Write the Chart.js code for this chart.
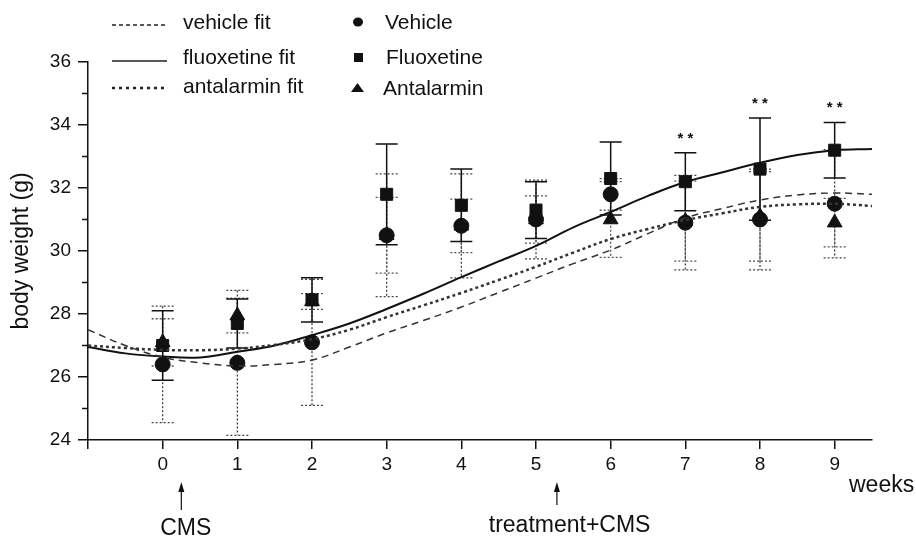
<!DOCTYPE html>
<html>
<head>
<meta charset="utf-8">
<script src="https://cdn.jsdelivr.net/npm/chart.js@4.4.1/dist/chart.umd.min.js"></script>
<style>
  html, body { margin: 0; padding: 0; background: #fff; }
  #grafica { display: block; }
</style>
</head>
<body>
<canvas id="grafica" width="916" height="537"></canvas>
<script>
// semanas
const weeks = [0, 1, 2, 3, 4, 5, 6, 7, 8, 9];

// medias por grupo
const vehicle    = [26.4, 26.45, 27.1, 30.5, 30.8, 31.0, 31.8, 30.9, 31.0, 31.5];
const fluoxetine = [27.0, 27.7, 28.45, 31.8, 31.45, 31.3, 32.3, 32.2, 32.6, 33.2];
const antalarmin = [27.1, 27.95, 28.4, 30.5, 30.8, 31.0, 31.0, 30.95, 31.1, 30.9];

// barras de error (+/-)
const vehicleErr    = [1.85, 2.3, 2.0, 1.95, 1.65, 1.25, 0.5, 1.5, 1.6, 1.72];
const fluoxetineErr = [1.1, 0.78, 0.7, 1.6, 1.15, 0.9, 1.16, 0.92, 1.62, 0.88];
const antalarminErr = [0.75, 0.55, 0.25, 1.2, 0.85, 0.75, 1.2, 1.27, 1.42, 0.77];

// curvas de ajuste
const fitWeeks      = [-1, -0.5, 0, 0.5, 1, 1.5, 2, 2.5, 3, 3.5, 4, 4.5, 5, 5.5, 6, 6.5, 7, 7.5, 8, 8.5, 9, 9.5];
const vehicleFit    = [27.5, 27.0, 26.63, 26.45, 26.35, 26.4, 26.54, 26.95, 27.4, 27.8, 28.22, 28.68, 29.14, 29.6, 30.03, 30.55, 31.05, 31.35, 31.62, 31.78, 31.84, 31.8];
const fluoxetineFit = [26.95, 26.75, 26.65, 26.62, 26.8, 27.0, 27.33, 27.7, 28.16, 28.65, 29.17, 29.67, 30.16, 30.75, 31.24, 31.75, 32.19, 32.5, 32.8, 33.05, 33.2, 33.24];
const antalarminFit = [27.0, 26.92, 26.86, 26.85, 26.9, 27.02, 27.2, 27.5, 27.9, 28.28, 28.67, 29.08, 29.5, 29.95, 30.38, 30.7, 30.98, 31.2, 31.4, 31.48, 31.5, 31.43];

// semanas con significancia (**)
const sigWeeks = [7, 8, 9];

// ticks
const xTicks = [-1, 0, 1, 2, 3, 4, 5, 6, 7, 8, 9];
const yTicks = [24, 26, 28, 30, 32, 34, 36];
const yMinorTicks = [25, 27, 29, 31, 33, 35];

const FONT = "'Liberation Sans', Arial, sans-serif";

function toPoints(xs, ys) {
    return xs.map((x, i) => ({ x: x, y: ys[i] }));
}

// dibuja barras de error, ticks menores, flechas y leyenda
const extras = {
    id: 'extras',
    beforeDatasetsDraw(chart) {
        const ctx = chart.ctx;
        const x = chart.scales.x, y = chart.scales.y;
        const grupos = [
            { m: vehicle, e: vehicleErr, color: '#444', dash: [2, 2], w: 1.3 },
            { m: antalarmin, e: antalarminErr, color: '#555', dash: [2, 2], w: 1.3 },
            { m: fluoxetine, e: fluoxetineErr, color: '#111', dash: [], w: 1.5 }
        ];
        ctx.save();
        grupos.forEach(g => {
            ctx.strokeStyle = g.color;
            ctx.lineWidth = g.w;
            ctx.setLineDash(g.dash);
            weeks.forEach((wk, i) => {
                const px = x.getPixelForValue(wk);
                const top = y.getPixelForValue(g.m[i] + g.e[i]);
                const bot = y.getPixelForValue(g.m[i] - g.e[i]);
                ctx.beginPath();
                ctx.moveTo(px, top); ctx.lineTo(px, bot);
                ctx.moveTo(px - 11, top); ctx.lineTo(px + 11, top);
                ctx.moveTo(px - 11, bot); ctx.lineTo(px + 11, bot);
                ctx.stroke();
            });
        });
        ctx.restore();
    },
    afterDraw(chart) {
        const ctx = chart.ctx;
        const x = chart.scales.x, y = chart.scales.y;
        const left = chart.chartArea.left;
        ctx.save();
        ctx.strokeStyle = '#111';
        ctx.lineWidth = 1.5;
        // ticks menores eje Y
        yMinorTicks.forEach(v => {
            const py = y.getPixelForValue(v);
            ctx.beginPath();
            ctx.moveTo(left - 6, py); ctx.lineTo(left, py);
            ctx.stroke();
        });

        // asteriscos
        ctx.fillStyle = '#111';
        ctx.font = 'bold 15px ' + FONT;
        ctx.textAlign = 'center';
        ctx.textBaseline = 'middle';
        sigWeeks.forEach(wk => {
            const i = weeks.indexOf(wk);
            const px = x.getPixelForValue(wk);
            const py = y.getPixelForValue(fluoxetine[i] + fluoxetineErr[i] + 0.45);
            ctx.fillText('* *', px, py);
        });

        // flechas y textos inferiores
        function flecha(px, y1, y2) {
            ctx.lineWidth = 1.2;
            ctx.beginPath();
            ctx.moveTo(px, y2); ctx.lineTo(px, y1 + 6);
            ctx.stroke();
            ctx.beginPath();
            ctx.moveTo(px, y1); ctx.lineTo(px - 3, y1 + 10); ctx.lineTo(px + 3, y1 + 10);
            ctx.closePath();
            ctx.fill();
        }
        flecha(x.getPixelForValue(0.25), 482, 510);
        flecha(x.getPixelForValue(5.28), 482, 505);
        ctx.font = '23px ' + FONT;
        ctx.textBaseline = 'alphabetic';
        ctx.fillText('CMS', x.getPixelForValue(0.31), 535);
        ctx.fillText('treatment+CMS', x.getPixelForValue(5.45), 532);
        ctx.textAlign = 'left';
        ctx.fillText('weeks', 849, 492);

        // leyenda
        ctx.font = '21px ' + FONT;
        const filas = [
            { t: 'vehicle fit', dash: [4, 3], w: 1.3, ly: 25, ty: 29 },
            { t: 'fluoxetine fit', dash: [], w: 1.5, ly: 61, ty: 64 },
            { t: 'antalarmin fit', dash: [3, 4], w: 2.5, ly: 88, ty: 93 }
        ];
        filas.forEach(f => {
            ctx.strokeStyle = '#222';
            ctx.lineWidth = f.w;
            ctx.setLineDash(f.dash);
            ctx.beginPath();
            ctx.moveTo(112, f.ly); ctx.lineTo(167, f.ly);
            ctx.stroke();
            ctx.fillText(f.t, 183, f.ty);
        });
        ctx.setLineDash([]);
        // marcadores
        ctx.beginPath();
        ctx.ellipse(358, 22, 5, 4.5, 0, 0, Math.PI * 2);
        ctx.fill();
        ctx.fillRect(354, 53, 9, 9);
        ctx.beginPath();
        ctx.moveTo(351, 92); ctx.lineTo(364, 92); ctx.lineTo(357.5, 83);
        ctx.closePath();
        ctx.fill();
        ctx.fillText('Vehicle', 385, 29);
        ctx.fillText('Fluoxetine', 386, 64);
        ctx.fillText('Antalarmin', 383, 95);
        ctx.restore();
    }
};

const ctx = document.getElementById('grafica').getContext('2d');
const chart = new Chart(ctx, {
    type: 'scatter',
    data: {
        datasets: [
            {
                label: 'vehicle fit',
                data: toPoints(fitWeeks, vehicleFit),
                showLine: true, pointRadius: 0, tension: 0.4,
                borderColor: '#333', borderWidth: 1.5, borderDash: [7, 5]
            },
            {
                label: 'antalarmin fit',
                data: toPoints(fitWeeks, antalarminFit),
                showLine: true, pointRadius: 0, tension: 0.4,
                borderColor: '#333', borderWidth: 2.5, borderDash: [3, 3]
            },
            {
                label: 'fluoxetine fit',
                data: toPoints(fitWeeks, fluoxetineFit),
                showLine: true, pointRadius: 0, tension: 0.4,
                borderColor: '#111', borderWidth: 2
            },
            {
                label: 'Antalarmin',
                data: toPoints(weeks, antalarmin),
                pointStyle: 'triangle', pointRadius: 8.5,
                backgroundColor: '#111', borderColor: '#111'
            },
            {
                label: 'Vehicle',
                data: toPoints(weeks, vehicle),
                pointStyle: 'circle', pointRadius: 7.5,
                backgroundColor: '#111', borderColor: '#111'
            },
            {
                label: 'Fluoxetine',
                data: toPoints(weeks, fluoxetine),
                pointStyle: 'rect', pointRadius: 8.5,
                backgroundColor: '#111', borderColor: '#111'
            }
        ]
    },
    options: {
        responsive: false,
        animation: false,
        layout: { padding: { left: 0, right: 44, top: 62, bottom: 0 } },
        plugins: {
            legend: { display: false },
            tooltip: { enabled: false }
        },
        scales: {
            x: {
                type: 'linear',
                min: -1, max: 9.5,
                afterBuildTicks: s => { s.ticks = xTicks.map(v => ({ value: v })); },
                afterFit: s => { s.height = 97; },
                ticks: {
                    color: '#111',
                    font: { family: FONT, size: 19 },
                    padding: 4,
                    callback: v => (v < 0 ? '' : v)
                },
                grid: { drawOnChartArea: false, tickLength: 9, color: '#111', lineWidth: 1.5 },
                border: { color: '#111', width: 1.5 }
            },
            y: {
                min: 24, max: 36,
                afterBuildTicks: s => { s.ticks = yTicks.map(v => ({ value: v })); },
                afterFit: s => { s.width = 88; },
                ticks: {
                    color: '#111',
                    font: { family: FONT, size: 19 },
                    padding: 7
                },
                title: {
                    display: true,
                    text: 'body weight (g)',
                    color: '#111',
                    font: { family: FONT, size: 23 },
                    padding: { top: 8, bottom: 0 }
                },
                grid: { drawOnChartArea: false, tickLength: 10, color: '#111', lineWidth: 1.5 },
                border: { color: '#111', width: 1.5 }
            }
        }
    },
    plugins: [extras]
});
</script>
</body>
</html>
